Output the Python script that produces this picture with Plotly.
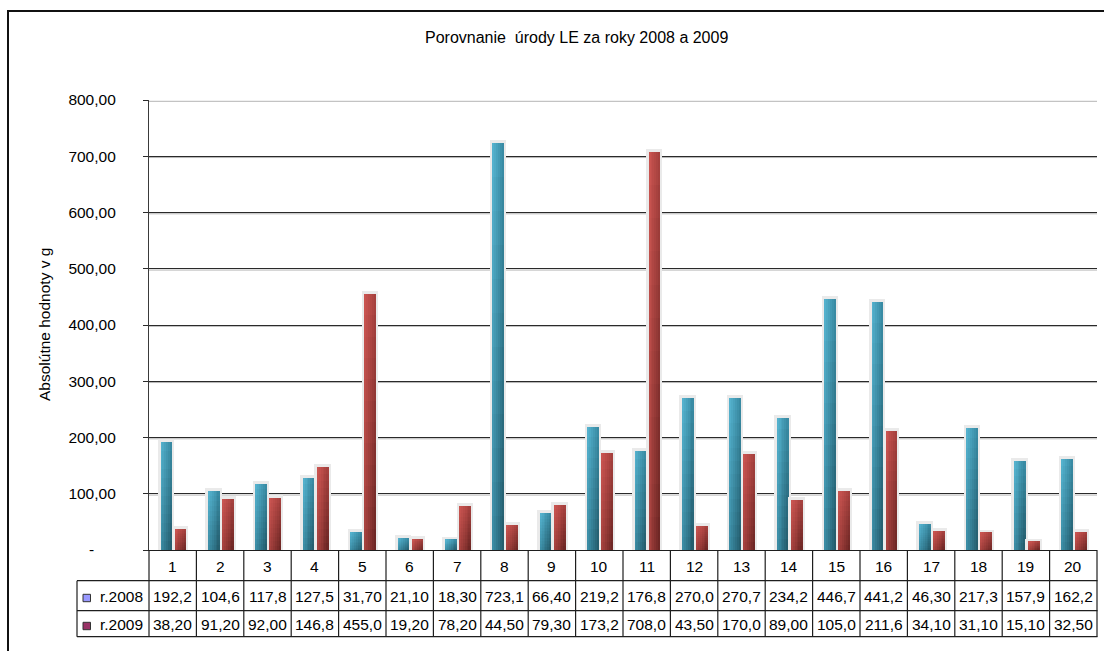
import plotly.graph_objects as go

# ---------------- data ----------------
categories = list(range(1, 21))
series_names = ["r.2008", "r.2009"]
values_2008 = [192.2, 104.6, 117.8, 127.5, 31.7, 21.1, 18.3, 723.1, 66.4, 219.2,
               176.8, 270.0, 270.7, 234.2, 446.7, 441.2, 46.3, 217.3, 157.9, 162.2]
values_2009 = [38.2, 91.2, 92.0, 146.8, 455.0, 19.2, 78.2, 44.5, 79.3, 173.2,
               708.0, 43.5, 170.0, 89.0, 105.0, 211.6, 34.1, 31.1, 15.1, 32.5]
ytick_vals = [0, 100, 200, 300, 400, 500, 600, 700, 800]
ytick_text = ["-" + "\u00a0" * 5, "100,00", "200,00", "300,00", "400,00",
              "500,00", "600,00", "700,00", "800,00"]
title_text = "Porovnanie \u00a0úrody LE za roky 2008 a 2009"
yaxis_title = "Absolútne hodnoty v g"

# ---------------- layout geometry (pixels) ----------------
FW, FH = 1104, 651
L, R, T, B = 149, 1097, 100, 550
W, H = R - L, B - T
FONT = "Arial, Liberation Sans, sans-serif"


def px(x):
    return (x - L) / W


def py(y):
    return (B - y) / H


def fmt(v):
    return f"{v:.2f}".replace(".", ",")[:5]


def hex2rgb(h):
    h = h.lstrip("#")
    return [int(h[i:i + 2], 16) for i in (0, 2, 4)]


def mix(c1, c2, t):
    return [c1[i] + (c2[i] - c1[i]) * t for i in range(3)]


def bilinear(tl, tr, bl, br, u, v):
    # u: 0 left -> 1 right ; v: 0 bottom -> 1 top
    top = mix(hex2rgb(tl), hex2rgb(tr), u)
    bot = mix(hex2rgb(bl), hex2rgb(br), u)
    c = mix(bot, top, v)
    return "rgb(%d,%d,%d)" % tuple(round(x) for x in c)


styles = [
    dict(vals=values_2008, o0=-0.245, w=0.238,
         cols=("#55b3cf", "#3a8da6", "#3a8aa2", "#245c6c")),
    dict(vals=values_2009, o0=0.052, w=0.238,
         cols=("#cb5551", "#a8423f", "#a3403d", "#6c2624")),
]

fig = go.Figure()
NS, NK = 6, 12
for st in styles:
    vals = st["vals"]
    fig.add_trace(go.Bar(
        x=categories, y=vals, offset=st["o0"], width=st["w"],
        marker=dict(color="#eaeaea", line=dict(color="#eaeaea", width=5)),
        hoverinfo="skip", showlegend=False))
    sw = st["w"] / NS
    for j in range(NS):
        for k in range(NK):
            fig.add_trace(go.Bar(
                x=categories,
                y=[v / NK for v in vals],
                base=[v * k / NK for v in vals],
                offset=st["o0"] + j * sw, width=sw,
                marker=dict(color=bilinear(*st["cols"], j / (NS - 1), (k + 0.5) / NK),
                            line=dict(width=0)),
                hoverinfo="skip", showlegend=False))

shapes = []
# gridline shadows
for v in ytick_vals[1:]:
    shapes.append(dict(type="line", xref="paper", x0=0, x1=1, yref="y",
                       ysizemode="pixel", yanchor=v, y0=-1.3, y1=-1.3,
                       line=dict(color="#b5b5b5", width=1), layer="between"))
# table: horizontal lines
for yy in (580.7, 610.7, 636.7):
    shapes.append(dict(type="line", xref="paper", yref="paper",
                       x0=px(77), x1=px(1097.5), y0=py(yy), y1=py(yy),
                       line=dict(color="#1e1e1e", width=1.2)))
# table: vertical lines at category boundaries
for i in range(len(categories) + 1):
    xb = i / len(categories)
    shapes.append(dict(type="line", xref="paper", yref="paper",
                       x0=xb, x1=xb, y0=py(550), y1=py(636.7),
                       line=dict(color="#1e1e1e", width=1.2)))
# table left border
shapes.append(dict(type="line", xref="paper", yref="paper",
                   x0=px(77), x1=px(77), y0=py(580.7), y1=py(636.7),
                   line=dict(color="#1e1e1e", width=1.2)))
# legend keys
key_cols = ["#9999ff", "#993366"]
key_y = [598, 626]
for kc, ky in zip(key_cols, key_y):
    shapes.append(dict(type="rect", xref="paper", yref="paper",
                       x0=px(83), x1=px(90.5), y0=py(ky - 3.7), y1=py(ky + 3.7),
                       fillcolor=kc, line=dict(color="#333333", width=1)))
# outer chart frame
shapes.append(dict(type="rect", xref="paper", yref="paper",
                   x0=px(8), x1=px(1140), y0=py(11), y1=py(700),
                   line=dict(color="#111111", width=2), fillcolor="rgba(0,0,0,0)"))

annotations = []
annotations.append(dict(text=title_text, xref="paper", yref="paper",
                        x=px(576), y=py(37), xanchor="center", yanchor="middle",
                        showarrow=False, font=dict(family=FONT, size=16, color="#000")))
annotations.append(dict(text=yaxis_title, xref="paper", yref="paper",
                        x=px(44), y=0.5, xanchor="center", yanchor="middle",
                        textangle=-90, showarrow=False,
                        font=dict(family=FONT, size=15.5, color="#000")))
for c in categories:
    annotations.append(dict(text=str(c), xref="x", yref="paper", x=c, y=py(566),
                            xanchor="center", yanchor="middle", showarrow=False,
                            font=dict(family=FONT, size=15.5, color="#000")))
for name, vals, ry in zip(series_names, [values_2008, values_2009], [596, 624]):
    annotations.append(dict(text=name, xref="paper", yref="paper", x=px(97.5), y=py(ry),
                            xanchor="left", yanchor="middle", showarrow=False,
                            font=dict(family=FONT, size=15.5, color="#000")))
    for c, v in zip(categories, vals):
        annotations.append(dict(text=fmt(v), xref="x", yref="paper", x=c, y=py(ry),
                                xanchor="center", yanchor="middle", showarrow=False,
                                font=dict(family=FONT, size=15.5, color="#000")))

fig.update_layout(
    width=FW, height=FH, autosize=False,
    margin=dict(l=L, r=FW - R, t=T, b=FH - B, pad=0),
    paper_bgcolor="white", plot_bgcolor="white",
    barmode="overlay", bargap=0, bargroupgap=0,
    showlegend=False,
    font=dict(family=FONT, size=15.5, color="#000"),
    xaxis=dict(range=[0.5, 20.5], showgrid=False, zeroline=False,
               showticklabels=False, ticks="", showline=True,
               linecolor="#1e1e1e", linewidth=1.2, fixedrange=True),
    yaxis=dict(range=[0, 800], tickvals=ytick_vals, ticktext=ytick_text,
               showgrid=True, gridcolor="#2a2a2a", gridwidth=1,
               zeroline=False, showline=True, linecolor="#3a3a3a", linewidth=1.2,
               ticks="outside", ticklen=5, tickcolor="#2a2a2a",
               ticklabelstandoff=24,
               tickfont=dict(family=FONT, size=15.5, color="#000"), fixedrange=True),
    shapes=shapes, annotations=annotations,
)

fig.write_html("out.html")
